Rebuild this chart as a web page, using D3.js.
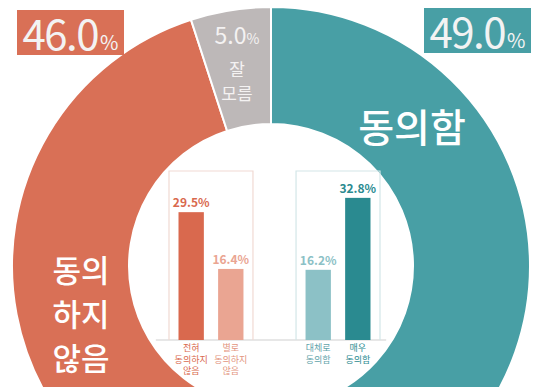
<!DOCTYPE html>
<html><head><meta charset="utf-8">
<script src="https://cdn.jsdelivr.net/npm/d3@7"></script>
<style>
html,body{margin:0;padding:0;background:#fff;}
svg{display:block;font-family:"Noto Sans CJK KR","Noto Sans",sans-serif;}
</style></head>
<body><svg id="c" width="543" height="387"></svg>
<script>
// Donut data
const segments = ["동의함", "동의하지 않음", "잘 모름"];
const segmentValues = [49.0, 46.0, 5.0];
const segmentColors = ["#489fa5", "#d97056", "#bdb8b8"];

// Inner bar data
const barGroups = ["disagree", "agree"];
const barCategories = [["전혀|동의하지|않음", "별로|동의하지|않음"], ["대체로|동의함", "매우|동의함"]];
const barValues = [[29.5, 16.4], [16.2, 32.8]];
const barColors = [["#d9694e", "#eaa592"], ["#8cc1c6", "#2a8a90"]];
const labelColors = [["#d9694e", "#e39580"], ["#5fa3aa", "#2a8a90"]];
const panelStroke = ["#f1dad3", "#d3e6e8"];

const svg = d3.select("#c");
const cx = 271, cy = 266, rOut = 259, rIn = 142;

const pie = d3.pie().sort(null).value(d => d).startAngle(0).endAngle(2 * Math.PI);
const arcs = pie(segmentValues);
const arcGen = d3.arc().innerRadius(rIn).outerRadius(rOut);
const g = svg.append("g").attr("transform", `translate(${cx},${cy})`);
g.selectAll("path").data(arcs).join("path")
  .attr("d", arcGen)
  .attr("fill", (d, i) => segmentColors[i])
  .attr("stroke", "#fff").attr("stroke-width", 2);

// Big segment labels
svg.append("text").attr("x", 412).attr("y", 142).attr("text-anchor", "middle")
  .attr("fill", "#fff").attr("font-size", 39).attr("font-weight", 500).text(segments[0]);
const leftLines = ["동의", "하지", "않음"];
svg.append("g").selectAll("text").data(leftLines).join("text")
  .attr("x", 81).attr("y", (d, i) => 282 + i * 44).attr("text-anchor", "middle")
  .attr("fill", "#fff").attr("font-size", 31).attr("font-weight", 500).text(d => d);

// Gray label
const grayT = svg.append("text").attr("x", 237).attr("y", 44).attr("text-anchor", "middle").attr("fill", "#f4f2f2");
grayT.append("tspan").attr("font-size", 23).text(d3.format(".1f")(segmentValues[2]));
grayT.append("tspan").attr("font-size", 14).text("%");
svg.append("text").attr("x", 237).attr("y", 76).attr("text-anchor", "middle").attr("fill", "#f4f2f2")
  .attr("font-size", 17).text("잘");
svg.append("text").attr("x", 237).attr("y", 100).attr("text-anchor", "middle").attr("fill", "#f4f2f2")
  .attr("font-size", 17).text("모름");

// Percent boxes
function pctBox(x, y, w, h, color, val) {
  svg.append("rect").attr("x", x).attr("y", y).attr("width", w).attr("height", h).attr("fill", color);
  const t = svg.append("text").attr("x", x + w / 2).attr("y", y + 40).attr("text-anchor", "middle").attr("fill", "#f3f3f3");
  t.append("tspan").attr("font-size", 42).attr("letter-spacing", -1.5).text(d3.format(".1f")(val));
  t.append("tspan").attr("font-size", 20).attr("dx", 2).text("%");
}
pctBox(17, 10, 107, 45, segmentColors[1], segmentValues[1]);
pctBox(424, 8, 107, 45, segmentColors[0], segmentValues[0]);

// Inner bar chart
const baseY = 340;
const y = d3.scaleLinear().domain([0, 30]).range([baseY, baseY - 130]);
const gx = d3.scaleBand().domain(barGroups).range([169, 380]).paddingInner(0.339).paddingOuter(0);
const ix = d3.scaleBand().domain([0, 1]).range([0, gx.bandwidth()]).paddingInner(0.36).paddingOuter(0.24);

// baseline clipped to hole
const dy = baseY - cy, dx = Math.sqrt(rIn * rIn - dy * dy);
svg.append("line").attr("x1", cx - dx + 6).attr("x2", cx + dx - 6).attr("y1", baseY).attr("y2", baseY)
  .attr("stroke", "#cfcfcf").attr("stroke-width", 1.2);

barGroups.forEach((grp, gi) => {
  const gg = svg.append("g").attr("transform", `translate(${gx(grp)},0)`);
  gg.append("path")
    .attr("d", `M0,${baseY}V${171}H${gx.bandwidth()}V${baseY}`)
    .attr("fill", "none").attr("stroke", panelStroke[gi]).attr("stroke-width", 1.2);
  barValues[gi].forEach((v, bi) => {
    gg.append("rect").attr("x", ix(bi)).attr("width", ix.bandwidth())
      .attr("y", y(v)).attr("height", baseY - y(v)).attr("fill", barColors[gi][bi]);
    gg.append("text").attr("x", ix(bi) + ix.bandwidth() / 2).attr("y", y(v) - 5)
      .attr("text-anchor", "middle").attr("font-size", 12).attr("font-weight", 700)
      .attr("fill", barColors[gi][bi]).text(d3.format(".1f")(v) + "%");
    const lines = barCategories[gi][bi].split("|");
    gg.append("g").selectAll("text").data(lines).join("text")
      .attr("x", ix(bi) + ix.bandwidth() / 2).attr("y", (d, k) => 351 + k * 11.5)
      .attr("text-anchor", "middle").attr("font-size", 9)
      .attr("fill", labelColors[gi][bi]).text(d => d);
  });
});
</script></body></html>
